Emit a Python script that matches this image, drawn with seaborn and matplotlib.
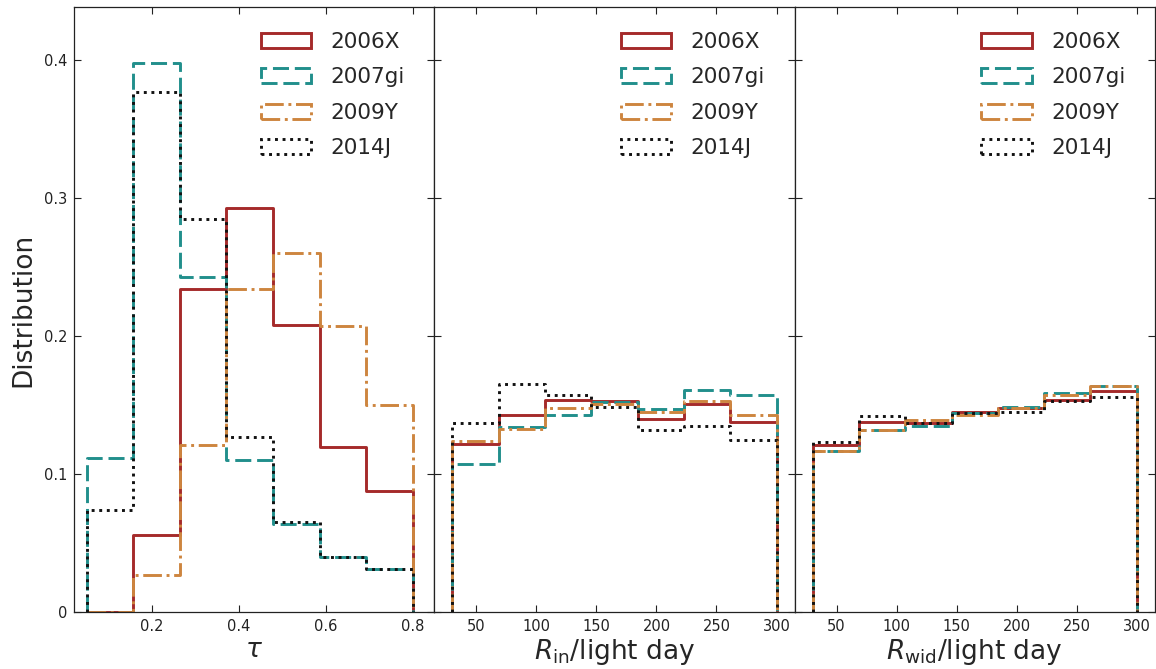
import numpy as np
import pandas as pd
import matplotlib
matplotlib.use("Agg")
import matplotlib.pyplot as plt
import matplotlib.patches as mpatches
import seaborn as sns

# ---------------- data ----------------
sn_names = ["2006X", "2007gi", "2009Y", "2014J"]

tau_edges = [0.05, 0.157, 0.264, 0.371, 0.479, 0.586, 0.693, 0.80]
r_edges = [30.0, 68.6, 107.1, 145.7, 184.3, 222.9, 261.4, 300.0]

tau_2006X = [0.0, 0.056, 0.234, 0.293, 0.208, 0.120, 0.088]
tau_2007gi = [0.112, 0.398, 0.243, 0.110, 0.064, 0.040, 0.031]
tau_2009Y = [0.0, 0.027, 0.121, 0.234, 0.260, 0.207, 0.150]
tau_2014J = [0.074, 0.377, 0.285, 0.127, 0.065, 0.040, 0.031]

rin_2006X = [0.122, 0.143, 0.154, 0.153, 0.140, 0.151, 0.138]
rin_2007gi = [0.107, 0.134, 0.143, 0.152, 0.147, 0.161, 0.157]
rin_2009Y = [0.124, 0.133, 0.148, 0.151, 0.145, 0.153, 0.143]
rin_2014J = [0.137, 0.165, 0.157, 0.149, 0.132, 0.135, 0.125]

rwid_2006X = [0.121, 0.138, 0.137, 0.145, 0.148, 0.154, 0.160]
rwid_2007gi = [0.117, 0.132, 0.135, 0.144, 0.149, 0.159, 0.164]
rwid_2009Y = [0.117, 0.132, 0.139, 0.143, 0.148, 0.157, 0.164]
rwid_2014J = [0.123, 0.142, 0.137, 0.144, 0.145, 0.153, 0.156]

tau_ticks = [0.2, 0.4, 0.6, 0.8]
r_ticks = [50, 100, 150, 200, 250, 300]
y_ticks = [0, 0.1, 0.2, 0.3, 0.4]
y_ticklabels = ["0", "0.1", "0.2", "0.3", "0.4"]

colors = ["#a52a2a", "#218f8c", "#cd853f", "#111111"]
styles = ["-", (0, (5.5, 2)), (0, (6.4, 1.6, 1, 1.6)), (0, (1, 1.6))]

panels = [
    (tau_edges, [tau_2006X, tau_2007gi, tau_2009Y, tau_2014J], r"$\tau$", (0.02, 0.85), tau_ticks),
    (r_edges, [rin_2006X, rin_2007gi, rin_2009Y, rin_2014J], r"$R_{\rm in}$/light day", (15, 315), r_ticks),
    (r_edges, [rwid_2006X, rwid_2007gi, rwid_2009Y, rwid_2014J], r"$R_{\rm wid}$/light day", (15, 315), r_ticks),
]

# ---------------- figure ----------------
sns.set_style("white")
plt.rcParams["font.family"] = ["DejaVu Sans"]
plt.rcParams["mathtext.fontset"] = "dejavusans"

fig, axes = plt.subplots(1, 3, figsize=(11.56, 6.69), dpi=100, sharey=True)
fig.subplots_adjust(left=0.064, right=0.999, bottom=0.085, top=0.9895, wspace=0)

for ax, (edges, series, xlabel, xlim, xticks) in zip(axes, panels):
    centers = [0.5 * (a + b) for a, b in zip(edges[:-1], edges[1:])]
    # zero-width bins at both ends make the outline drop to the baseline
    bins = [edges[0]] + list(edges) + [edges[-1]]
    for name, vals, c, ls in zip(sn_names, series, colors, styles):
        df = pd.DataFrame({"x": centers, "w": vals})
        sns.histplot(data=df, x="x", weights="w", bins=bins, element="step",
                     fill=False, stat="count", color=c, linestyle=ls,
                     linewidth=2.1, ax=ax)
    ax.set_xlim(*xlim)
    ax.set_ylim(0, 0.4385)
    ax.set_xticks(xticks)
    ax.set_xticklabels([f"{t:g}" for t in xticks])
    ax.set_yticks(y_ticks)
    ax.set_xlabel(xlabel, fontsize=19, labelpad=2)
    ax.set_ylabel("")
    ax.tick_params(direction="in", top=True, right=True, bottom=True, left=True,
                   length=5, width=0.8, labelsize=10.5, colors="#222222", pad=5)
    for s in ax.spines.values():
        s.set_color("#222222")
        s.set_linewidth(0.9)
        s.set_visible(True)
    handles = [mpatches.Patch(facecolor="none", edgecolor=c, linestyle=ls, linewidth=2.1)
               for c, ls in zip(colors, styles)]
    ax.legend(handles, sn_names, loc="upper right", bbox_to_anchor=(0.978, 0.995),
              frameon=False, fontsize=15.5,
              handlelength=2.35, handleheight=0.7, handletextpad=0.9,
              labelspacing=0.72, borderaxespad=0.6)

axes[0].set_yticklabels(y_ticklabels)
axes[0].set_ylabel("Distribution", fontsize=19, labelpad=5)
for ax in axes[1:]:
    ax.tick_params(labelleft=False)

fig.savefig("out.png", dpi=100)
